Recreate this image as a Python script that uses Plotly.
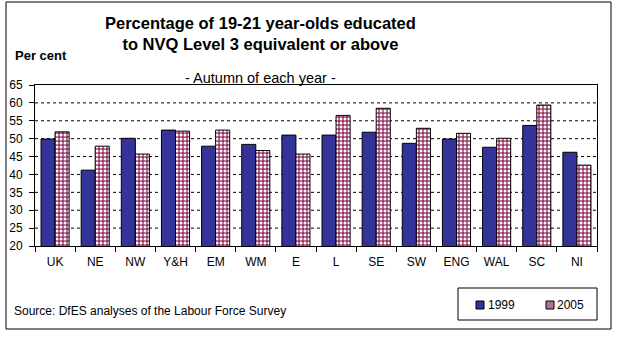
import plotly.graph_objects as go

regions = ["UK", "NE", "NW", "Y&H", "EM", "WM", "E", "L", "SE", "SW", "ENG", "WAL", "SC", "NI"]
pct_1999 = [49.9, 41.2, 50.1, 52.4, 47.9, 48.4, 51.0, 51.0, 51.8, 48.7, 49.9, 47.6, 53.7, 46.2]
pct_2005 = [51.9, 47.9, 45.7, 52.1, 52.4, 46.7, 45.7, 56.5, 58.5, 52.9, 51.5, 50.1, 59.4, 42.6]
y_ticks = [20, 25, 30, 35, 40, 45, 50, 55, 60, 65]
series_names = ["1999", "2005"]

W, H = 618, 341
L, R, T, B = 35, 597, 85, 246

font = "Liberation Sans, Arial, sans-serif"
navy = "#333399"
plum = "#993366"

fig = go.Figure()
fig.add_trace(go.Bar(
    x=regions, y=pct_1999, name=series_names[0],
    marker=dict(color=navy, line=dict(color="black", width=1)),
))
fig.add_trace(go.Bar(
    x=regions, y=pct_2005, name=series_names[1],
    marker=dict(
        color=plum,
        line=dict(color="black", width=1),
        pattern=dict(shape=".", fgcolor="white", bgcolor=plum,
                     size=4, solidity=0.45, fillmode="replace"),
    ),
))


def px_x(p):
    return (p - L) / (R - L)


def px_y(p):
    return (B - p) / (B - T)


shapes = [
    # outer chart frame
    dict(type="rect", xref="paper", yref="paper",
         x0=px_x(6), x1=px_x(611), y0=px_y(329), y1=px_y(2),
         line=dict(color="black", width=1), fillcolor="rgba(0,0,0,0)", layer="below"),
    # legend box
    dict(type="rect", xref="paper", yref="paper",
         x0=px_x(458), x1=px_x(597), y0=px_y(320), y1=px_y(288),
         line=dict(color="black", width=1), fillcolor="white"),
    # legend swatches
    dict(type="rect", xref="paper", yref="paper",
         x0=px_x(476), x1=px_x(484), y0=px_y(309), y1=px_y(301),
         line=dict(color="black", width=1), fillcolor=navy),
    dict(type="rect", xref="paper", yref="paper",
         x0=px_x(546), x1=px_x(554), y0=px_y(309), y1=px_y(301),
         line=dict(color="black", width=1), fillcolor="#b86e92"),
]
# dashed horizontal gridlines
for v in y_ticks[1:-1]:
    shapes.append(dict(type="line", xref="paper", yref="y", x0=0, x1=1, y0=v, y1=v,
                       line=dict(color="black", width=1, dash="3px,3px"), layer="below"))

annotations = [
    dict(text="<b>Percentage of 19-21 year-olds educated<br>to NVQ Level 3 equivalent or above</b>",
         xref="paper", yref="paper", x=px_x(260), y=px_y(34), xanchor="center", yanchor="middle",
         showarrow=False, font=dict(family=font, size=16.5, color="black"), align="center"),
    dict(text="- Autumn of each year -", xref="paper", yref="paper",
         x=px_x(260), y=px_y(78), xanchor="center", yanchor="middle",
         showarrow=False, font=dict(family=font, size=14.5, color="black")),
    dict(text="<b>Per cent</b>", xref="paper", yref="paper",
         x=px_x(13), y=px_y(55), xanchor="left", yanchor="middle",
         showarrow=False, font=dict(family=font, size=13, color="black")),
    dict(text="Source: DfES analyses of the Labour Force Survey", xref="paper", yref="paper",
         x=px_x(12), y=px_y(311), xanchor="left", yanchor="middle",
         showarrow=False, font=dict(family=font, size=12, color="black")),
    dict(text=series_names[0], xref="paper", yref="paper",
         x=px_x(486), y=px_y(305), xanchor="left", yanchor="middle",
         showarrow=False, font=dict(family=font, size=12, color="black")),
    dict(text=series_names[1], xref="paper", yref="paper",
         x=px_x(555), y=px_y(305), xanchor="left", yanchor="middle",
         showarrow=False, font=dict(family=font, size=12, color="black")),
]

fig.update_layout(
    width=W, height=H,
    margin=dict(l=L, r=W - R, t=T, b=H - B, pad=0),
    paper_bgcolor="white", plot_bgcolor="white",
    barmode="group", bargap=0.3, bargroupgap=0,
    font=dict(family=font, size=12, color="black"),
    showlegend=False,
    shapes=shapes, annotations=annotations,
)
fig.update_xaxes(showline=True, linecolor="black", linewidth=1, mirror=True,
                 ticks="outside", ticklen=5, tickcolor="black", showgrid=False,
                 tickson="boundaries", tickangle=0, ticklabelstandoff=5,
                 tickfont=dict(size=12), automargin=False)
fig.update_yaxes(range=[20, 65], tickvals=y_ticks, showline=True, linecolor="black",
                 linewidth=1, mirror=True, ticks="outside", ticklen=5, tickcolor="black",
                 showgrid=False, zeroline=False, ticklabelstandoff=4,
                 tickfont=dict(size=12), automargin=False)

fig.write_html("out.html")
